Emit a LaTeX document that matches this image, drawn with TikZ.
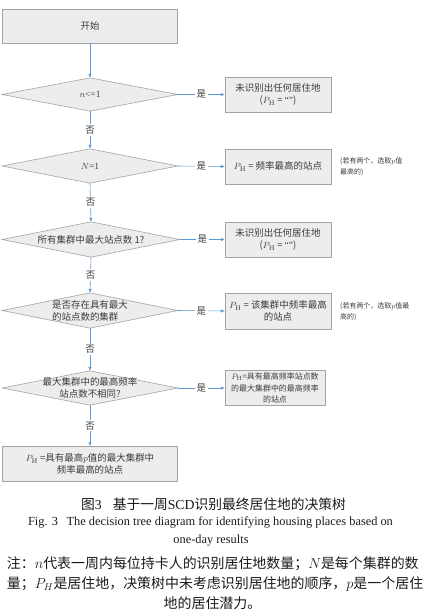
\documentclass[tikz,border=0pt]{standalone}
\usepackage[no-math]{fontspec}
\setmainfont{Noto Sans CJK SC}
\newfontfamily\en{Liberation Serif}
\usetikzlibrary{arrows.meta}
\usetikzlibrary{backgrounds}
\definecolor{boxFillColor}{HTML}{EDEDED}
\definecolor{boxLineColor}{HTML}{A3A3A3}
\definecolor{linkColor}{HTML}{5B9BD5}
\definecolor{labelTextColor}{HTML}{3C3C3C}
\definecolor{captionColor}{HTML}{1A1A1A}
\def\PH{$P_{\mathrm{H}}$}
\def\textNone{未识别出任何居住地\\(\PH\ = {\en “”})}
\def\textTwo{(若有两个，选取$p$值}
\newcommand\spreadLine[1]{\hbox to 411bp{\spaceskip=0pt plus 1fil\xspaceskip=0pt plus 1fil\relax #1}}

\begin{document}
\begin{tikzpicture}[x=1bp,y=-1bp,
  box/.style={draw=boxLineColor, fill=boxFillColor, line width=0.6pt, inner sep=0pt,
    align=center, text=labelTextColor, font=\fontsize{9.5}{12}\selectfont},
  decision/.style={inner sep=0pt, minimum width=176, align=center,
    text=labelTextColor, font=\fontsize{9.5}{12}\selectfont},
  link/.style={draw=linkColor, line width=0.6pt, -{Latex[length=4bp,width=3.4bp]}},
  answer/.style={fill=white, inner sep=1.5pt, text=labelTextColor,
    font=\fontsize{9.5}{12}\selectfont},
  note/.style={anchor=west, align=left, inner sep=0pt, text=labelTextColor,
    font=\fontsize{7}{11}\selectfont}]

\useasboundingbox (0,0) rectangle (435,613);

% box layer
\begin{scope}
\node[box, minimum width=176, minimum height=34] (start) at (90,26) {开始};

\node[decision, minimum height=33] (d1) at (90,94.5) {$n${\en <=1}};
\node[box, minimum width=106, minimum height=35] (r1) at (278,94.5) {\textNone};

\node[decision, minimum height=34] (d2) at (90,166) {$N${\en =1}};
\node[box, minimum width=106, minimum height=35] (r2) at (278,166.5) {\PH\ = 频率最高的站点};
\node[note] (n2) at (340,166.5) {\textTwo\\最高的)};

\node[decision, minimum width=178, minimum height=35] (d3) at (91,239.5) {所有集群中最大站点数 1?};
\node[box, minimum width=106, minimum height=35] (r3) at (278,239.5) {\textNone};

\node[decision, minimum height=35, align=left] (d4) at (90,310.5) {是否存在具有最大\\的站点数的集群};
\node[box, minimum width=106, minimum height=36] (r4) at (278,311) {\PH\ = 该集群中频率最高\\的站点};
\node[note] (n4) at (340,312) {\textTwo 最\\高的)};

\node[decision, minimum height=34] (d5) at (90,388) {最大集群中的最高频率\\站点数不相同?};
\node[box, minimum width=100, minimum height=35, font=\fontsize{8}{11.5}\selectfont] (r5) at (275,388)
  {\PH=具有最高频率站点数\\的最大集群中的最高频率\\的站点};

\node[box, minimum width=176, minimum height=35] (final) at (90,464) {\PH\ =具有最高$p$值的最大集群中\\频率最高的站点};
\end{scope}

% diamonds
\begin{scope}[on background layer]
\foreach \d in {d1,d2,d3,d4,d5}
  \draw[draw=boxLineColor, fill=boxFillColor, line width=0.6pt]
    (\d.west) -- (\d.north) -- (\d.east) -- (\d.south) -- cycle;
\end{scope}

% link layer
\begin{scope}
\draw[link] (start.south) -- (d1.north);
\draw[link] (d1.east) -- node[answer] {是} (r1.west);
\draw[link] (d1.south) -- node[answer] {否} (d2.north);
\draw[link] (d2.east) -- node[answer] {是} (r2.west);
\draw[link] (d2.south) -- node[answer] {否} (d3.north);
\draw[link] (d3.east) -- node[answer] {是} (r3.west);
\draw[link] (d3.south) -- node[answer] {否} (d4.north);
\draw[link] (d4.east) -- node[answer] {是} (r4.west);
\draw[link] (d4.south) -- node[answer] {否} (d5.north);
\draw[link] (d5.east) -- node[answer] {是} (r5.west);
\draw[link] (d5.south) -- node[answer] {否} (final.north);
\end{scope}

% caption layer
\begin{scope}[text=captionColor]
\node[font=\fontsize{13.8}{16}\selectfont] (capZh) at (213.5,504)
  {图{\en 3}\hspace{0.8em}基于一周{\en SCD}识别最终居住地的决策树};
\node[font=\en\fontsize{12.4}{14}\selectfont] (capEn) at (210.5,522.5)
  {Fig. 3\hspace{0.7em}The decision tree diagram for identifying housing places based on};
\node[font=\en\fontsize{12.4}{14}\selectfont] (capEnB) at (211,541)
  {one-day results};
\node[inner sep=0pt, font=\fontsize{14}{21}\selectfont] (notesA) at (212.5,563.5)
  {\spreadLine{注 ： $n$ 代 表 一 周 内 每 位 持 卡 人 的 识 别 居 住 地 数 量 ； $N$ 是 每 个 集 群 的 数}};
\node[inner sep=0pt, font=\fontsize{14}{21}\selectfont] (notesB) at (212.5,584)
  {\spreadLine{量 ； $P_H$ 是 居 住 地 ， 决 策 树 中 未 考 虑 识 别 居 住 地 的 顺 序 ， $p$ 是 一 个 居 住}};
\node[font=\fontsize{14}{21}\selectfont] (notesC) at (212.5,603.5) {地的居住潜力。};
\end{scope}
\end{tikzpicture}
\end{document}
